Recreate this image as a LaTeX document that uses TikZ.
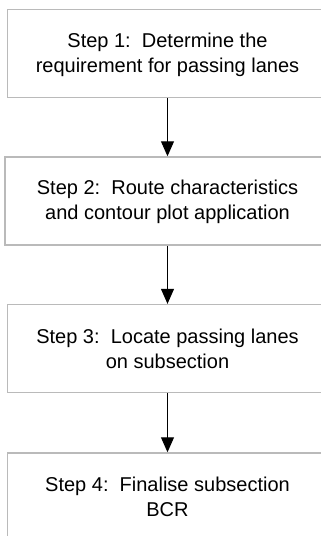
\documentclass[tikz,border=0pt]{standalone}
\usepackage{fontspec}
\setmainfont{Liberation Sans}
\usetikzlibrary{arrows.meta}

% strut giving each text line a fixed height (17pt) and depth (3pt)
\newcommand\linestrut{\rule[-3pt]{0pt}{20pt}}

\tikzset{
  stepbox/.style={rectangle, draw=black!27, line width=1.5pt,
    minimum width=320pt, minimum height=88pt, inner sep=0pt,
    align=center, font=\fontsize{20}{25}\selectfont},
  flow/.style={-{Triangle[length=15pt,width=13pt]}, line width=1pt, black}
}

\begin{document}
\begin{tikzpicture}[x=1pt,y=-1pt]
  \path[use as bounding box, clip] (0,0) rectangle (321,536);

  \node[stepbox] (s1) at (167.5,53.3)
    {\linestrut Step 1:\ \ Determine the\\\linestrut requirement for passing lanes};
  \node[stepbox, minimum width=325pt] (s2) at (167.5,201)
    {\linestrut Step 2:\ \ Route characteristics\\\linestrut and contour plot application};
  \node[stepbox] (s3) at (167.5,348.6)
    {\linestrut Step 3:\ \ Locate passing lanes\\\linestrut on subsection};
  \node[stepbox] (s4) at (167.5,497)
    {\linestrut Step 4:\ \ Finalise subsection\\\linestrut BCR};

  \draw[flow] (s1.south) -- (s2.north);
  \draw[flow] (s2.south) -- (s3.north);
  \draw[flow] (s3.south) -- (s4.north);
\end{tikzpicture}
\end{document}
